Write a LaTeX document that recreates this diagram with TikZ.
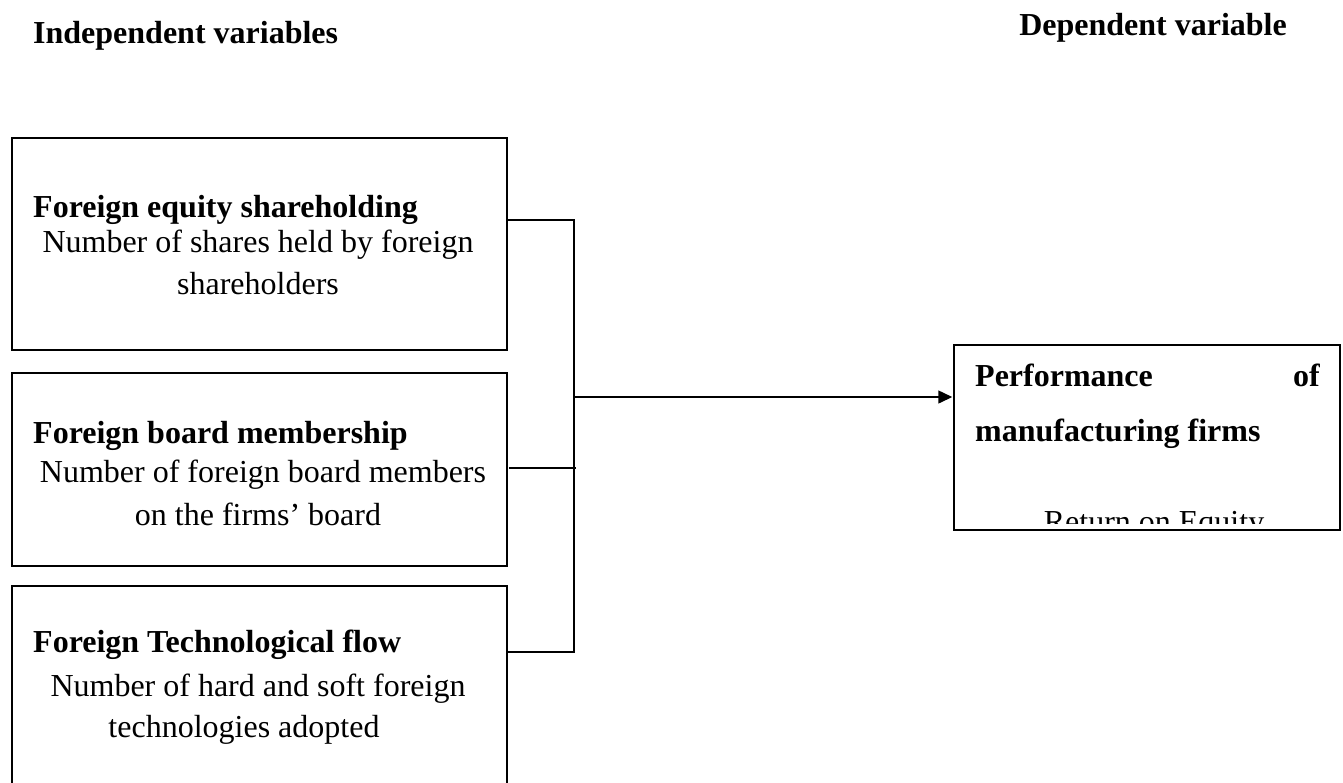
\documentclass[tikz,border=0pt]{standalone}
\usepackage{fontspec}
\setmainfont{Liberation Serif}
\usetikzlibrary{arrows.meta,calc}
\begin{document}
\begin{tikzpicture}[x=1pt,y=-1pt,
  varbox/.style={draw=black,line width=1.5pt,minimum width=495pt,inner sep=0pt},
  txt/.style={inner sep=0pt,font=\fontsize{32}{38}\selectfont},
  btxt/.style={txt,font=\fontsize{32}{38}\selectfont\bfseries},
  conn/.style={line width=1.5pt},
]
\useasboundingbox (0,0) rectangle (1343,782);
\clip (0,0) rectangle (1343,782);
\fill[white] (0,0) rectangle (1343,782);

% headers
\node[btxt,anchor=base west] (hInd) at (33,43) {Independent variables};
\node[btxt,anchor=base east] (hDep) at (1287,35) {Dependent variable};

% boxes
\node[varbox,minimum height=212pt] (b1) at (259.5,244) {};
\node[varbox,minimum height=193pt] (b2) at (259.5,469.5) {};
\node[varbox,minimum height=214pt] (b3) at (259.5,693) {};
\node[draw=black,line width=1.5pt,minimum width=386pt,minimum height=185pt,inner sep=0pt] (rb) at (1147,437.5) {};

% box texts
\node[btxt,anchor=base west] (t1) at (33,217) {Foreign equity shareholding};
\node[txt,anchor=base] (d1a) at (258,252) {Number of shares held by foreign};
\node[txt,anchor=base] (d1b) at (258,294) {shareholders};

\node[btxt,anchor=base west] (t2) at (33,443) {Foreign board membership};
\node[txt,anchor=base] (d2a) at (263,482) {Number of foreign board members};
\node[txt,anchor=base] (d2b) at (258,525) {on the firms’ board};

\node[btxt,anchor=base west] (t3) at (33,652) {Foreign Technological flow};
\node[txt,anchor=base] (d3a) at (258,696) {Number of hard and soft foreign};
\node[txt,anchor=base] (d3b) at (244,737) {technologies adopted};

\node[btxt,anchor=base west] (r1) at (975,386) {Performance};
\node[btxt,anchor=base east] (r2) at (1320,386) {of};
\node[btxt,anchor=base west] (r3) at (975,441) {manufacturing firms};
\begin{scope}
  \clip (rb.north west) rectangle ([yshift=7pt]rb.south east);
  \node[txt,anchor=base] (r4) at (1154,532) {Return on Equity};
\end{scope}

% connectors
\coordinate (j1) at (574,220);
\coordinate (j2) at (576,468);
\coordinate (j3) at (574,652);
\coordinate (ja) at (574,397);
\draw[conn] (b1.east |- j1) -- (j1) -- (j3);
\draw[conn] ([xshift=1pt]b2.east |- j2) -- (j2);
\draw[conn] (b3.east |- j3) -- ([xshift=1pt]j3);
\draw[conn,-{Triangle[length=14pt,width=13pt]}] (ja) -- ([xshift=-1pt]rb.west |- ja);
\end{tikzpicture}
\end{document}
